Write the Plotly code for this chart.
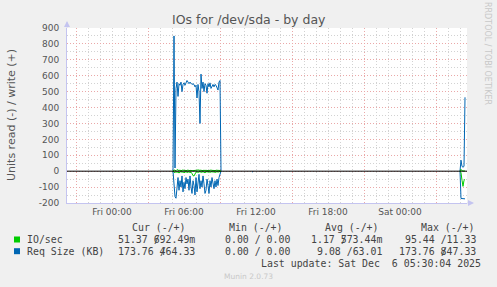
import numpy as np
import pandas as pd
import plotly.graph_objects as go

# ---------------- data ----------------
title = "IOs for /dev/sda - by day"
y_label = "Units read (-) / write (+)"
x_start, x_end = "2025-12-04 20:15", "2025-12-06 05:35"
x_tick_vals = ["2025-12-05 00:00", "2025-12-05 06:00", "2025-12-05 12:00",
               "2025-12-05 18:00", "2025-12-06 00:00"]
x_tick_text = ["Fri 00:00", "Fri 06:00", "Fri 12:00", "Fri 18:00", "Sat 00:00"]
y_tick_vals = list(range(-200, 901, 100))
y_tick_text = [str(v) for v in y_tick_vals]

# 5-minute samples; each segment = (start time, values)
req_write_segments = [
    ("2025-12-05 05:05", [0, 850, 20, 520, 560, 470, 550, 540, 560, 500, 545, 555, 540, 560, 570,
                          560, 550, 560, 555, 545, 550, 545, 530, 540, 460, 545, 500, 300, 610,
                          520, 560, 500, 550, 540, 490, 550, 530, 555, 520, 540, 545, 530, 545,
                          540, 520, 510, 560, 570, 0]),
    ("2025-12-06 05:00", [0, 69, 30, 25, 30, 464.33]),
]
req_read_segments = [
    ("2025-12-05 05:05", [0, -60, -160, -170, -90, -40, -120, -60, -100, -30, -130, -70, -110, -40,
                          -80, -50, -120, -30, -100, -140, -60, -90, -150, -40, -130, -70, -20,
                          -110, -60, -100, -30, -80, -140, -120, -50, -90, -140, -60, -100, -40,
                          -90, -110, -60, -100, -50, -90, -40, -20, 0]),
    ("2025-12-05 11:40", [-4, -4]),
    ("2025-12-06 05:00", [0, -172, -172, -172, -172, -173.76]),
]
io_write_segments = [
    ("2025-12-05 05:05", [0, 8, 5, 3, 10, 6, 4, 7, 3, 5, 8, 4, 6, 3, 5, 7, 4, 6, 5, 3, 6, 4, 5, 3,
                          6, 8, 4, 5, 7, 3, 5, 6, 4, 8, 5, 3, 6, 4, 7, 5, 3, 6, 4, 5, 7, 4, 6, 3, 0]),
    ("2025-12-06 05:00", [0, 11.33, 2, 1, 0.5, 0.69]),
]
io_read_segments = [
    ("2025-12-05 05:05", [0, -5, -10, -3, -8, -4, -12, -5, -3, -7, -4, -10, -6, -3, -8, -5, -4, -9,
                          -6, -15, -28, -30, -12, -6, -4, -8, -5, -3, -7, -5, -4, -6, -10, -5, -3,
                          -6, -4, -7, -5, -3, -6, -4, -8, -5, -3, -6, -4, -2, 0]),
    ("2025-12-06 05:00", [0, -10, -57, -95.44, -57, -51.37]),
]

legend_names = ["IO/sec", "Req Size (KB)"]
legend_colors = ["#00cc00", "#0066b3"]
cur_vals = [("51.37", "692.49m"), ("173.76", "464.33")]
min_vals = [("0.00", "0.00"), ("0.00", "0.00")]
avg_vals = [("1.17", "573.44m"), ("9.08", "63.01")]
max_vals = [("95.44", "11.33"), ("173.76", "847.33")]
col_headers = ["Cur (-/+)", "Min (-/+)", "Avg (-/+)", "Max (-/+)"]
last_update = "Last update: Sat Dec  6 05:30:04 2025"
munin_version = "Munin 2.0.73"
side_text = "RRDTOOL / TOBI OETIKER"

# ---------------- build series ----------------
full_index = pd.date_range(x_start, x_end, freq="5min")


def build(segments):
    s = pd.Series(np.nan, index=full_index)
    for start, vals in segments:
        idx = pd.date_range(start, periods=len(vals), freq="5min")
        s.loc[idx] = vals
    return s


req_w = build(req_write_segments)
req_r = build(req_read_segments)
io_w = build(io_write_segments)
io_r = build(io_read_segments)

# ---------------- figure ----------------
W, H = 497, 287
L, R, T, B = 67, 467, 28, 203


def px2x(px):
    return (px - L) / (R - L)


def py2y(py):
    return (B - py) / (B - T)


BLUE, GREEN = legend_colors[1], legend_colors[0]
RED_GRID = "#eaa8a8"
GRAY_GRID = "#d2d2d2"
AXIS = "#c4c4f0"
TXT = "#555555"
DOT = "1px,2px"

fig = go.Figure()
for s, c in [(req_r, BLUE), (req_w, BLUE), (io_r, GREEN), (io_w, GREEN)]:
    fig.add_trace(go.Scatter(x=s.index, y=s.values, mode="lines",
                             line=dict(color=c, width=1), connectgaps=False,
                             showlegend=False, hoverinfo="skip"))
# invisible trace to hold the offset major x-grid axis
fig.add_trace(go.Scatter(x=[x_start, x_end], y=[None, None], xaxis="x2",
                         showlegend=False, hoverinfo="skip"))

fig.add_hline(y=0, line_color="black", line_width=1, layer="above")

fig.update_layout(
    width=W, height=H,
    margin=dict(l=L, r=W - R, t=T, b=H - B),
    paper_bgcolor="#f0f0f0", plot_bgcolor="white",
    font=dict(family="DejaVu Sans", size=9, color=TXT),
    xaxis=dict(range=[x_start, x_end], tickmode="array", tickvals=x_tick_vals,
               ticktext=x_tick_text, showgrid=False, zeroline=False,
               showline=True, linecolor=AXIS, linewidth=1, ticks="",
               tickfont=dict(size=9, color=TXT),
               minor=dict(tickmode="linear", tick0="2025-12-05 00:00", dtick=3600000,
                          showgrid=True, gridcolor=GRAY_GRID, griddash=DOT, gridwidth=1)),
    xaxis2=dict(overlaying="x", matches="x", tickmode="linear", tick0="2025-12-04 21:00",
                dtick=6 * 3600000, showgrid=True, gridcolor=RED_GRID, griddash=DOT,
                gridwidth=1, showticklabels=False, ticks="", showline=False, zeroline=False),
    yaxis=dict(range=[-200, 900], tickmode="array", tickvals=y_tick_vals, ticktext=y_tick_text,
               showgrid=True, gridcolor=RED_GRID, griddash=DOT, gridwidth=1, zeroline=False,
               showline=True, linecolor=AXIS, linewidth=1, ticks="",
               ticklabelstandoff=5, tickfont=dict(size=9, color=TXT),
               minor=dict(tickmode="linear", tick0=0, dtick=50, showgrid=True,
                          gridcolor=GRAY_GRID, griddash=DOT, gridwidth=1)),
)

ann = []
# title
ann.append(dict(text=title, x=px2x(249), y=py2y(19), xref="paper", yref="paper",
                showarrow=False, xanchor="center", yanchor="middle",
                font=dict(size=12.5, color=TXT)))
# y label
ann.append(dict(text=y_label, x=px2x(11), y=py2y(115), xref="paper", yref="paper",
                showarrow=False, xanchor="center", yanchor="middle", textangle=-90,
                font=dict(size=11, color=TXT)))
# right side credit
ann.append(dict(text=side_text, x=px2x(488), y=py2y(53), xref="paper", yref="paper",
                showarrow=False, xanchor="center", yanchor="middle", textangle=90,
                font=dict(size=8, color="#c8c8c8")))
# axis arrows
ann.append(dict(text="", x=px2x(67), y=py2y(21), xref="paper", yref="paper",
                showarrow=True, ax=0, ay=8, arrowhead=2, arrowsize=1.2, arrowwidth=1,
                arrowcolor=AXIS))
ann.append(dict(text="", x=px2x(474), y=py2y(203), xref="paper", yref="paper",
                showarrow=True, ax=-8, ay=0, arrowhead=2, arrowsize=1.2, arrowwidth=1,
                arrowcolor=AXIS))

MONO = "DejaVu Sans Mono"
FS = 9.9
CW = FS * 0.602
LEG_TXT = "#444444"


def mono(text, x, y, anchor="left", color=LEG_TXT):
    ann.append(dict(text=text, x=px2x(x), y=py2y(y), xref="paper", yref="paper",
                    showarrow=False, xanchor=anchor, yanchor="middle",
                    font=dict(family=MONO, size=FS, color=color)))


header_ends = [188, 285, 381, 477]
value_ends = [197, 292, 384, 478]
row_ys = [239.5, 251.2]
for h, e in zip(col_headers, header_ends):
    mono(h, e, 227.5, anchor="right")

shapes = []
for i, name in enumerate(legend_names):
    y = row_ys[i]
    shapes.append(dict(type="rect", xref="paper", yref="paper",
                       x0=px2x(14), x1=px2x(20), y0=py2y(y + 3), y1=py2y(y - 3),
                       fillcolor=legend_colors[i], line=dict(width=0)))
    mono(name, 25, y)
    for cell, end in zip([cur_vals[i], min_vals[i], avg_vals[i], max_vals[i]], value_ends):
        a, b = cell
        if len(b) <= 5:
            mono(f"{a} /{b:>5}", end, y, anchor="right")
        else:
            txt = f"{a} {b}"
            mono(txt, end, y, anchor="right")
            k = len(a) + 1
            cx = end - 1 - (len(txt) - k - 0.5) * CW
            mono("/", cx, y, anchor="center")

mono(last_update, 483, 263.8, anchor="right")
ann.append(dict(text=munin_version, x=px2x(248), y=py2y(276), xref="paper", yref="paper",
                showarrow=False, xanchor="center", yanchor="middle",
                font=dict(size=7.5, color="#c8c8c8")))

fig.update_layout(annotations=ann, shapes=list(fig.layout.shapes) + shapes)
fig.write_html("out.html")
